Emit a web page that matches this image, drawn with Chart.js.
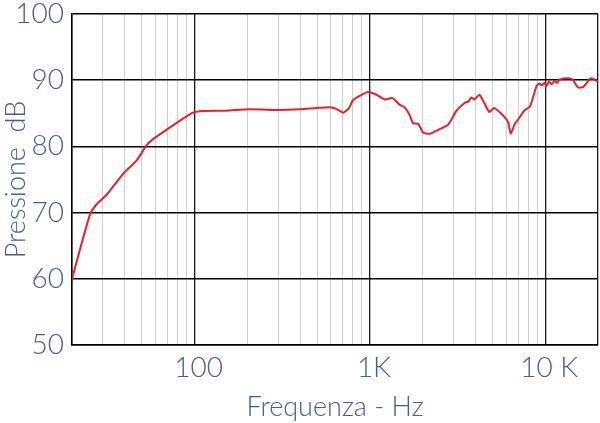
<!DOCTYPE html>
<html>
<head>
<meta charset="utf-8">
<script src="https://cdn.jsdelivr.net/npm/chart.js@4/dist/chart.umd.min.js"></script>
<style>
  html, body { margin: 0; padding: 0; background: #fff; }
  #wrap { width: 600px; height: 423px; }
</style>
</head>
<body>
<div id="wrap"><canvas id="c" width="600" height="423"></canvas></div>
<script>
// frequency (Hz) and level (dB)
const freqs = [20, 25.3, 27.7, 31.5, 39.2, 46.8, 53.3, 58, 69, 86, 98, 112, 150, 207, 306, 399, 500, 590, 650, 704, 760, 802, 900, 976, 1090, 1214, 1344, 1478, 1578, 1680, 1762, 1888, 2010, 2198, 2454, 2796, 3120, 3480, 3650, 3780, 3950, 4212, 4500, 4800, 5100, 5480, 5880, 6150, 6360, 6700, 6980, 7640, 8180, 8920, 9300, 9560, 9900, 10160, 10500, 10880, 11300, 11700, 12060, 13500, 14300, 15400, 16500, 18240, 20000];
const spl = [60, 69.7, 71.3, 72.7, 75.9, 77.9, 80.2, 81.1, 82.5, 84.2, 85.1, 85.35, 85.4, 85.6, 85.5, 85.6, 85.8, 85.9, 85.6, 85.1, 85.8, 87.0, 87.8, 88.2, 87.8, 87.1, 87.3, 86.3, 85.9, 84.8, 83.5, 83.4, 82.1, 81.9, 82.5, 83.3, 85.4, 86.6, 86.8, 87.4, 87.1, 87.8, 86.5, 85.2, 85.8, 85.2, 84.4, 83.6, 81.9, 83.4, 84.0, 85.5, 86.0, 89.1, 89.5, 89.2, 89.6, 89.1, 89.8, 89.4, 89.9, 89.6, 90.1, 90.3, 90.1, 88.9, 89.0, 90.3, 89.8];

const xTicks = [20, 30, 40, 50, 60, 70, 80, 90, 100, 200, 300, 400, 500, 600, 700, 800, 900,
  1000, 2000, 3000, 4000, 5000, 6000, 7000, 8000, 9000, 10000, 20000];
const xLabels = { 100: '100', 1000: '1K', 10000: '10 K' };
const yLabels = [50, 60, 70, 80, 90, 100];

const textColor = '#475e8e';
const tickFont = { family: 'Lato', size: 28, weight: '300' };
const titleFont = { family: 'Lato', size: 27, weight: '300' };
const isMajorX = v => v === 20 || v === 100 || v === 1000 || v === 10000 || v === 20000;

new Chart(document.getElementById('c'), {
  type: 'line',
  data: {
    datasets: [{
      data: freqs.map((f, i) => ({ x: f, y: spl[i] })),
      borderColor: '#e8202a',
      borderWidth: 2,
      pointRadius: 0,
      tension: 0.2
    }]
  },
  options: {
    responsive: false,
    animation: false,
    layout: { padding: { top: 14, right: 2, left: 0, bottom: 0 } },
    plugins: { legend: { display: false }, tooltip: { enabled: false } },
    scales: {
      x: {
        type: 'logarithmic',
        min: 20,
        max: 20000,
        afterBuildTicks: s => { s.ticks = xTicks.map(v => ({ value: v })); },
        afterFit: s => {
          s.height = 78;
          s.paddingLeft = 0;
          s.paddingRight = 0;
        },
        ticks: {
          autoSkip: false,
          maxRotation: 0,
          padding: 6,
          labelOffset: 4,
          color: textColor,
          font: tickFont,
          callback: v => xLabels[v] || ''
        },
        grid: {
          drawTicks: false,
          color: c => isMajorX(c.tick && c.tick.value) ? '#1a1a1a' : '#cfcfcf',
          lineWidth: c => isMajorX(c.tick && c.tick.value) ? 1.3 : 1
        },
        border: { color: '#000', width: 1.5 },
        title: {
          display: true,
          text: 'Frequenza - Hz',
          color: textColor,
          font: titleFont,
          padding: { top: 0, bottom: 0 }
        }
      },
      y: {
        min: 50,
        max: 100,
        afterFit: s => {
          s.width = 72;
          s.paddingTop = 0;
          s.paddingBottom = 0;
        },
        ticks: {
          stepSize: 5,
          padding: 8,
          color: textColor,
          font: tickFont,
          callback: v => yLabels.includes(v) ? String(v) : ''
        },
        grid: {
          drawTicks: false,
          color: c => (c.tick && c.tick.value % 10 === 0) ? '#000' : '#6e6e6e',
          lineWidth: c => (c.tick && c.tick.value % 10 === 0) ? 1.5 : 1
        },
        border: { color: '#000', width: 1.5 },
        title: {
          display: true,
          text: 'Pressione  dB',
          color: textColor,
          font: titleFont,
          padding: { top: 0, bottom: 0 }
        }
      }
    }
  }
});
</script>
</body>
</html>
